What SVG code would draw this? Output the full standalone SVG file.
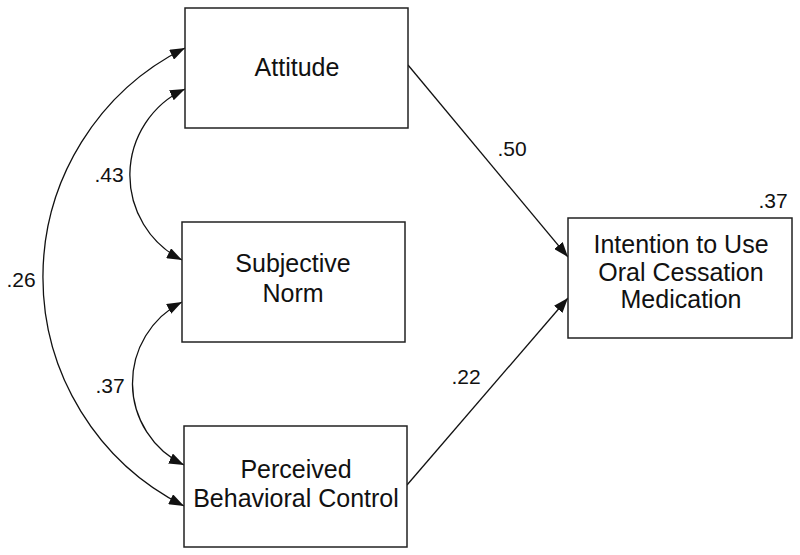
<svg xmlns="http://www.w3.org/2000/svg" width="800" height="555" viewBox="0 0 800 555">
<style>
.box{fill:#fff;stroke:#222;stroke-width:1.5}
.lbl{font-family:"Liberation Sans",Arial,sans-serif;font-size:25px;fill:#111;text-anchor:middle}
.num{font-family:"Liberation Sans",Arial,sans-serif;font-size:21px;fill:#111;text-anchor:middle}
.edge{fill:none;stroke:#111;stroke-width:1.3}
</style>
<defs>
<marker id="ah" viewBox="0 0 15 11" refX="15" refY="5.5" markerWidth="15" markerHeight="11" markerUnits="userSpaceOnUse" orient="auto-start-reverse">
<path d="M0,0 L15,5.5 L0,11 z" fill="#111"/>
</marker>
</defs>
<rect width="800" height="555" fill="#fff"/>
<g id="connectors">
<path class="edge" d="M185,48 A256,256 0 0 0 184,506" marker-start="url(#ah)" marker-end="url(#ah)"/>
<path class="edge" d="M185,89 A95,95 0 0 0 182,260" marker-start="url(#ah)" marker-end="url(#ah)"/>
<path class="edge" d="M182,302 A91,91 0 0 0 184,465" marker-start="url(#ah)" marker-end="url(#ah)"/>
<path class="edge" d="M408,65 L568,257" marker-end="url(#ah)"/>
<path class="edge" d="M407,485 L568,298" marker-end="url(#ah)"/>
<text class="num" x="21" y="287">.26</text>
<text class="num" x="109" y="182">.43</text>
<text class="num" x="110" y="393">.37</text>
<text class="num" x="512" y="156">.50</text>
<text class="num" x="466" y="384">.22</text>
</g>
<g id="attitude">
<rect class="box" x="185" y="8" width="223" height="120"/>
<text class="lbl" x="297" y="76">Attitude</text>
</g>
<g id="subjective-norm">
<rect class="box" x="182" y="222" width="223" height="120"/>
<text class="lbl" x="293" y="272">Subjective</text>
<text class="lbl" x="293" y="302">Norm</text>
</g>
<g id="pbc">
<rect class="box" x="184" y="426" width="223" height="121"/>
<text class="lbl" x="296" y="478">Perceived</text>
<text class="lbl" x="296" y="507">Behavioral Control</text>
</g>
<g id="intention">
<rect class="box" x="568" y="218" width="224" height="120"/>
<text class="lbl" x="681" y="253">Intention to Use</text>
<text class="lbl" x="681" y="281">Oral Cessation</text>
<text class="lbl" x="681" y="308">Medication</text>
<text class="num" x="773" y="208">.37</text>
</g>
</svg>
